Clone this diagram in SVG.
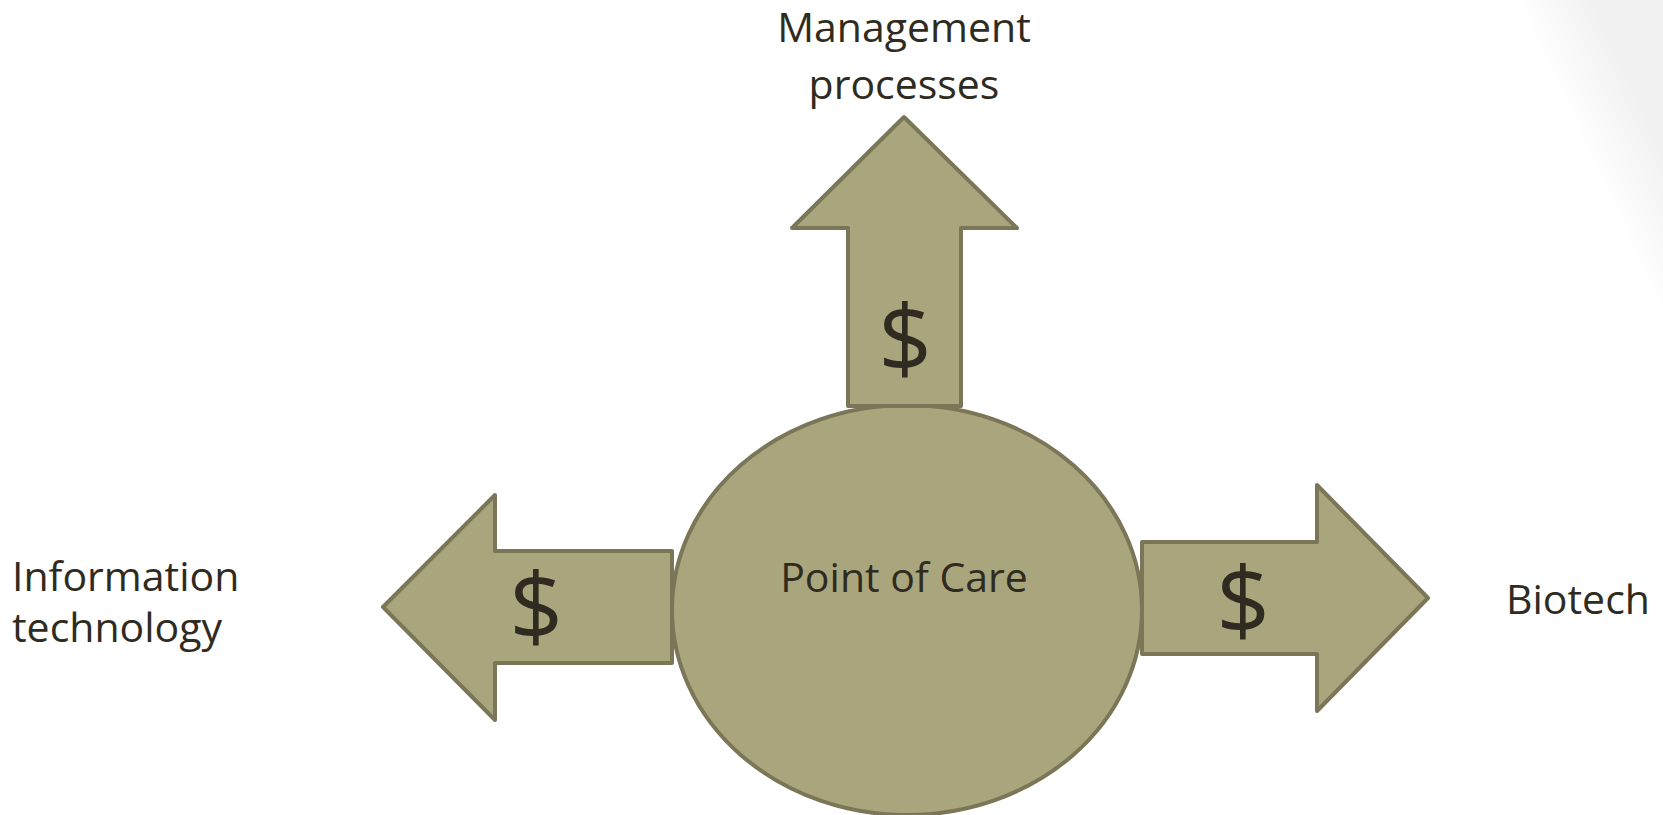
<svg xmlns="http://www.w3.org/2000/svg" width="1663" height="815" viewBox="0 0 1663 815">
<defs>
<style>
.shape{fill:#a9a57c;stroke:#7a7657;stroke-width:4;stroke-linejoin:round}
.lbl{font-family:"Open Sans","Noto Sans","DejaVu Sans",sans-serif;fill:#2f2b20}
.big{font-size:41px}
.dollar{font-size:94px;text-anchor:middle}
</style>
<linearGradient id="curl" gradientUnits="userSpaceOnUse" x1="1589" y1="160" x2="1652" y2="131">
<stop offset="0" stop-color="#e6e6e6" stop-opacity="0"/>
<stop offset="1" stop-color="#e6e6e6" stop-opacity="0.55"/>
</linearGradient>
</defs>
<rect width="1663" height="815" fill="#ffffff"/>
<rect x="1450" y="0" width="213" height="815" fill="url(#curl)"/>
<g id="point-of-care">
<ellipse class="shape" cx="907" cy="610" rx="235" ry="205"/>
<text class="lbl big" x="904" y="592" text-anchor="middle">Point of Care</text>
</g>
<g id="connectors">
<g id="arrow-up">
<polygon class="shape" points="904,117 1017,228 961,228 961,406 848,406 848,228 792,228"/>
<text class="lbl dollar" x="905" y="372">$</text>
</g>
<g id="arrow-left">
<polygon class="shape" points="383,607 495,495 495,551 672,551 672,663 495,663 495,720"/>
<text class="lbl dollar" x="536" y="640">$</text>
</g>
<g id="arrow-right">
<polygon class="shape" points="1428,598 1317,485 1317,542 1142,542 1142,654 1317,654 1317,711"/>
<text class="lbl dollar" x="1243" y="634">$</text>
</g>
</g>
<g id="management">
<text class="lbl big" x="904" y="42" text-anchor="middle">Management</text>
<text class="lbl big" x="904" y="99" text-anchor="middle">processes</text>
</g>
<g id="information-technology">
<text class="lbl big" x="12" y="591">Information</text>
<text class="lbl big" x="12" y="642">technology</text>
</g>
<g id="biotech">
<text class="lbl big" x="1506" y="614">Biotech</text>
</g>
</svg>
